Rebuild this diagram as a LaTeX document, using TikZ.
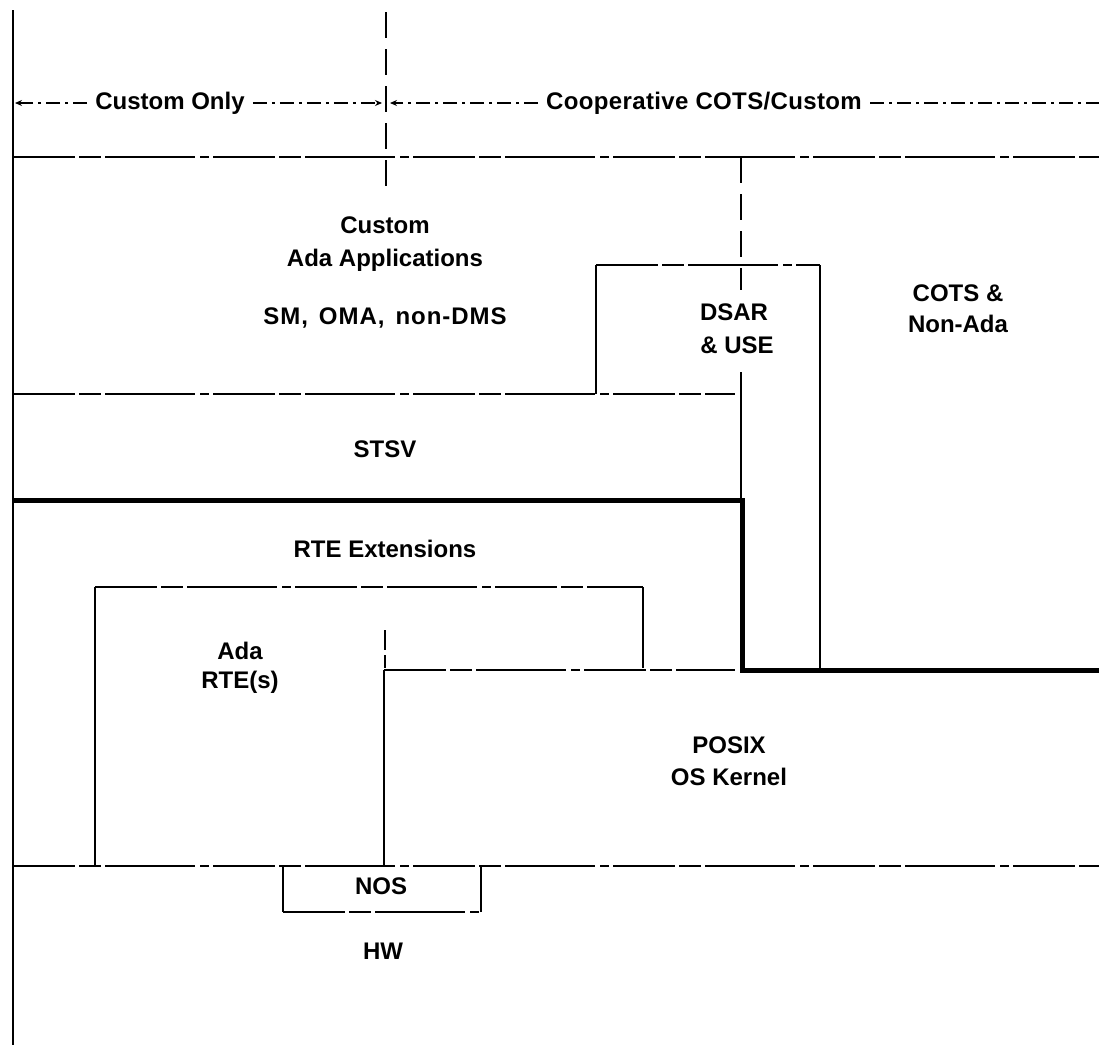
\documentclass[tikz,border=0pt]{standalone}
\usepackage{fontspec}
\setmainfont{Liberation Sans}
\usetikzlibrary{arrows.meta}
\begin{document}
\begin{tikzpicture}[x=1pt,y=-1pt,
  thin line/.style={line width=1.6pt},
  bold line/.style={line width=5pt},
  broken/.style={line width=1.6pt,dash pattern=on 62pt off 4pt on 22pt off 4pt on 90pt off 5pt on 9pt off 4pt},
  vdashed/.style={line width=1.8pt,dash pattern=on 26pt off 11pt},
  dim/.style={line width=1.1pt,dash pattern=on 14pt off 5pt on 3pt off 5pt},
  tip/.style={-{Stealth[length=7pt,width=6pt]}},
  lbl/.style={font=\fontsize{24}{28}\selectfont\bfseries,inner sep=0pt}]
\useasboundingbox (0,0) rectangle (1099,1050);
% named corner points
\coordinate (L0) at (13,10);   \coordinate (L1) at (13,1045);
\coordinate (C0) at (386,12);  \coordinate (C1) at (386,190);
\coordinate (T0) at (13,157);  \coordinate (T1) at (1099,157);
\coordinate (D0) at (741,157); \coordinate (D1) at (741,290);
\coordinate (D3) at (741,372); \coordinate (D2) at (741,500);
\coordinate (B0) at (596,265); \coordinate (B1) at (820,265); \coordinate (B2) at (820,670);
\coordinate (B3) at (596,394);
\coordinate (M0) at (13,394);  \coordinate (M1) at (735,394);
\coordinate (K0) at (13,500);  \coordinate (K1) at (742,500); \coordinate (K2) at (742,670); \coordinate (K3) at (1099,670);
\coordinate (R0) at (95,866);  \coordinate (R1) at (95,587); \coordinate (R2) at (643,587); \coordinate (R3) at (643,668);
\coordinate (P0) at (384,866); \coordinate (P1) at (384,670); \coordinate (P2) at (735,670);
\coordinate (Q0) at (385,630); \coordinate (Q1) at (385,668);
\coordinate (H0) at (13,866);  \coordinate (H1) at (1099,866);
\coordinate (N0) at (283,866); \coordinate (N1) at (283,912); \coordinate (N2) at (481,912); \coordinate (N3) at (481,866);

% labels
\node[lbl] (co)   at (170,103) {Custom Only};
\node[lbl] (coop) at (704,103) {\addfontfeature{LetterSpace=1.5}Cooperative COTS/Custom};
\node[lbl] (cu)   at (385,225) {Custom};
\node[lbl] (aa)   at (385,260) {Ada Applications};
\node[lbl] (sm)   at (385,318) {\addfontfeature{LetterSpace=4}SM,\hspace{11pt}OMA,\hspace{11pt}non-DMS};
\node[lbl] (ds)   at (734,312) {DSAR};
\node[lbl] (us)   at (737,345) {\& USE};
\node[lbl] (ct)   at (958,293) {COTS \&};
\node[lbl] (na)   at (958,324) {Non-Ada};
\node[lbl] (st)   at (385,449) {STSV};
\node[lbl] (re)   at (385,549) {RTE Extensions};
\node[lbl] (ad)   at (240,651) {Ada};
\node[lbl] (rs)   at (240,682) {RTE(s)};
\node[lbl] (px)   at (729,745) {POSIX};
\node[lbl] (os)   at (729,777) {OS Kernel};
\node[lbl] (ns)   at (381,886) {NOS};
\node[lbl] (hw)   at (383,951) {HW};

% dimension lines
\coordinate (A0) at (15,103);  \coordinate (A1) at (382,103);
\coordinate (A2) at (390,103); \coordinate (A3) at (1099,103);
\draw[dim,tip] ([xshift=-8pt]co.west) -- (A0);
\draw[dim,tip] ([xshift=8pt]co.east) -- (A1);
\draw[dim,tip] ([xshift=-8pt]coop.west) -- (A2);
\draw[dim] ([xshift=8pt]coop.east) -- (A3);

% frame lines
\draw[thin line] (L0) -- (L1);
\draw[vdashed] (C0) -- (C1);
\draw[broken] (T0) -- (T1);
\draw[vdashed] (D0) -- (D1);
\draw[thin line] (D3) -- (D2);
\draw[thin line] (B3) -- (B0);
\draw[broken] (B0) -- (B1);
\draw[thin line] (B1) -- (B2);
\draw[broken] (M0) -- (M1);
\draw[bold line,line join=miter] (K0) -- (K1) -- (K2) -- (K3);
\draw[thin line] (R0) -- (R1);
\draw[broken] (R1) -- (R2);
\draw[thin line] (R2) -- (R3);
\draw[thin line] (P0) -- (P1);
\draw[broken] (P1) -- (P2);
\draw[line width=1.8pt,dash pattern=on 20pt off 5pt] (Q0) -- (Q1);
\draw[broken] (H0) -- (H1);
\draw[thin line] (N0) -- (N1);
\draw[broken] (N1) -- (N2);
\draw[thin line] (N2) -- (N3);
\end{tikzpicture}
\end{document}
